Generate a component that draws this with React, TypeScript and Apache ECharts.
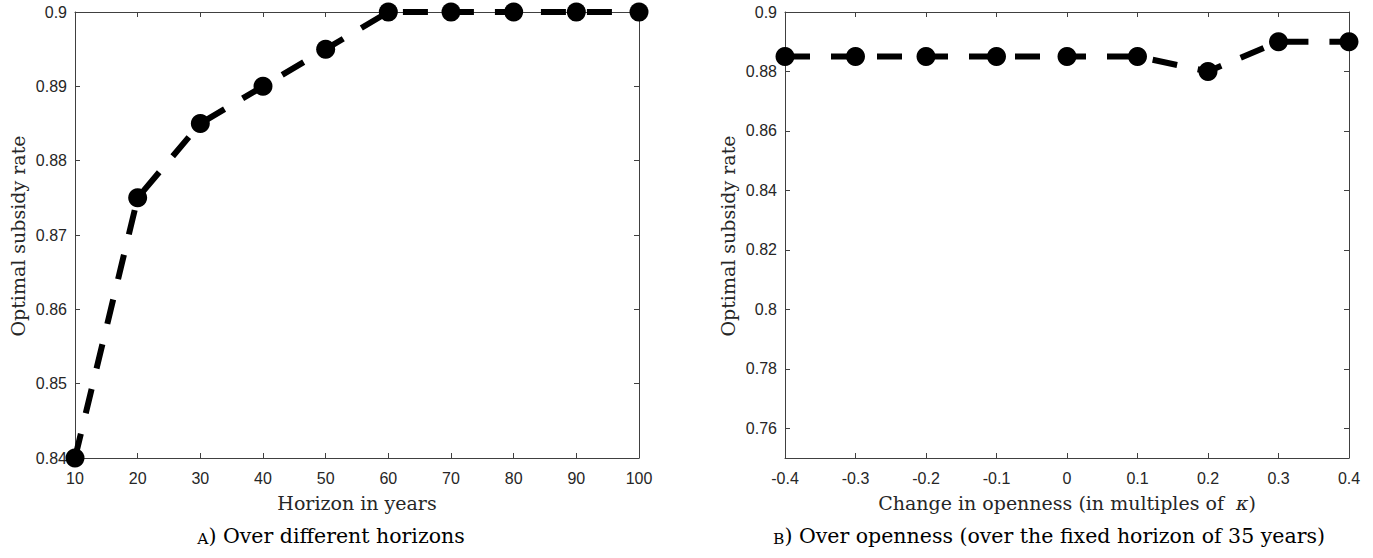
import React, { useEffect, useRef } from "react";
import * as echarts from "echarts";

const horizonYears = [10, 20, 30, 40, 50, 60, 70, 80, 90, 100];
const horizonRates = [0.84, 0.875, 0.885, 0.89, 0.895, 0.9, 0.9, 0.9, 0.9, 0.9];
const opennessChanges = [-0.4, -0.3, -0.2, -0.1, 0, 0.1, 0.2, 0.3, 0.4];
const opennessRates = [0.885, 0.885, 0.885, 0.885, 0.885, 0.885, 0.88, 0.89, 0.89];
const rightYTicks = [0.76, 0.78, 0.8, 0.82, 0.84, 0.86, 0.88, 0.9];

const AXIS_COLOR = "#404040";
const LABEL_COLOR = "#262626";
const TICK_FONT = "Liberation Sans";
const SERIF = "DejaVu Serif";

function axisBase(show: boolean, extra: any = {}) {
  return {
    type: "value",
    axisLine: { show: true, onZero: false, lineStyle: { color: AXIS_COLOR, width: 1 } },
    axisTick: { show: true, inside: true, length: 5, lineStyle: { color: AXIS_COLOR, width: 1 }, ...(extra.tick || {}) },
    axisLabel: {
      show,
      color: LABEL_COLOR,
      fontFamily: TICK_FONT,
      fontSize: 16,
      ...(extra.label || {}),
    },
    splitLine: { show: false },
  };
}

export default function App() {
  const ref = useRef<HTMLDivElement>(null);
  useEffect(() => {
    if (!ref.current) return;
    const chart = echarts.init(ref.current, undefined, { renderer: "svg" });
    const leftX = { min: 10, max: 100, interval: 10 };
    const leftY = { min: 0.84, max: 0.9, interval: 0.01 };
    const rightX = { min: -0.4, max: 0.4, interval: 0.1 };
    const rightY = { min: 0.75, max: 0.9 };
    const lineStyle = { color: "#000", width: 6, type: [25, 21] as any, cap: "butt" };
    const titleStyle = { fontFamily: SERIF, fontSize: 19, fill: LABEL_COLOR, align: "center", verticalAlign: "middle" };
    const captionStyle = {
      fontFamily: SERIF,
      fontSize: 20.5,
      fill: "#000",
      align: "center",
      verticalAlign: "middle",
      rich: { sc: { fontFamily: SERIF, fontSize: 15.5, fill: "#000", verticalAlign: "bottom" } },
    };
    chart.setOption({
      animation: false,
      backgroundColor: "#fff",
      grid: [
        { left: 75, top: 12, width: 564, height: 446 },
        { left: 785, top: 12, width: 564, height: 446 },
      ],
      xAxis: [
        { ...axisBase(true, { label: { margin: 12 } }), ...leftX, gridIndex: 0, position: "bottom" },
        { ...axisBase(false), ...leftX, gridIndex: 0, position: "top" },
        { ...axisBase(true, { label: { margin: 12 } }), ...rightX, gridIndex: 1, position: "bottom" },
        { ...axisBase(false), ...rightX, gridIndex: 1, position: "top" },
      ],
      yAxis: [
        { ...axisBase(true, { label: { margin: 8 } }), ...leftY, gridIndex: 0, position: "left" },
        { ...axisBase(false), ...leftY, gridIndex: 0, position: "right" },
        {
          ...axisBase(true, { label: { margin: 8, customValues: rightYTicks }, tick: { customValues: rightYTicks } }),
          ...rightY,
          gridIndex: 1,
          position: "left",
        },
        {
          ...axisBase(false, { tick: { customValues: rightYTicks } }),
          ...rightY,
          gridIndex: 1,
          position: "right",
        },
      ],
      series: [
        {
          type: "line",
          xAxisIndex: 0,
          yAxisIndex: 0,
          data: horizonYears.map((x, i) => [x, horizonRates[i]]),
          symbol: "circle",
          symbolSize: 19,
          itemStyle: { color: "#000" },
          lineStyle,
          clip: false,
          z: 5,
        },
        {
          type: "line",
          xAxisIndex: 2,
          yAxisIndex: 2,
          data: opennessChanges.map((x, i) => [x, opennessRates[i]]),
          symbol: "circle",
          symbolSize: 19,
          itemStyle: { color: "#000" },
          lineStyle,
          clip: false,
          z: 5,
        },
      ],
      graphic: [
        { type: "text", x: 18, y: 236, rotation: Math.PI / 2, style: { text: "Optimal subsidy rate", ...titleStyle } },
        { type: "text", x: 728, y: 236, rotation: Math.PI / 2, style: { text: "Optimal subsidy rate", ...titleStyle } },
        { type: "text", x: 357, y: 503, style: { text: "Horizon in years", ...titleStyle } },
        {
          type: "text",
          x: 1067,
          y: 503,
          style: {
            text: "Change in openness (in multiples of  {k|κ})",
            ...titleStyle,
            rich: { k: { fontFamily: SERIF, fontSize: 19, fontStyle: "italic", fill: LABEL_COLOR } },
          },
        },
        { type: "text", x: 331, y: 536, style: { text: "{sc|A}) Over different horizons", ...captionStyle } },
        {
          type: "text",
          x: 1049,
          y: 536,
          style: { text: "{sc|B}) Over openness (over the fixed horizon of 35 years)", ...captionStyle },
        },
      ],
    });
    return () => chart.dispose();
  }, []);
  return <div ref={ref} style={{ position: "fixed", left: 0, top: 0, width: 1373, height: 558 }} />;
}
